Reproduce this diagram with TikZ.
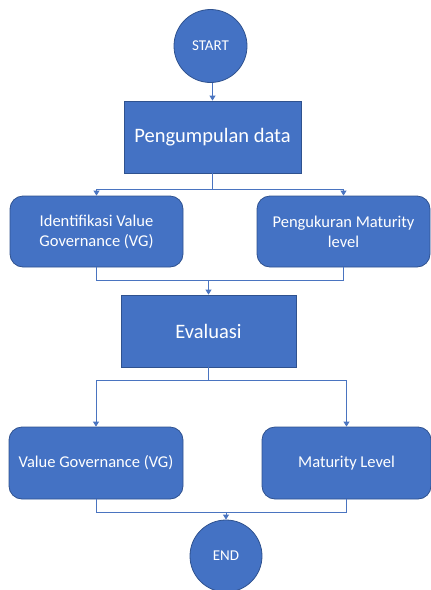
\documentclass[tikz,border=0pt]{standalone}
\usepackage{fontspec}
\setmainfont{Carlito}
\usetikzlibrary{arrows.meta}
\definecolor{fillblue}{HTML}{4472C4}
\definecolor{edgeblue}{HTML}{2F528F}
\definecolor{lineblue}{HTML}{4A74C0}
\tikzset{
  base/.style={fill=fillblue, draw=edgeblue, line width=0.8pt, text=white, align=center, inner sep=2pt},
  sqbox/.style={base, rectangle, font=\fontsize{20.5}{24}\selectfont},
  rbox/.style={base, rectangle, rounded corners=13pt, font=\fontsize{16.5}{20}\selectfont},
  term/.style={base, circle, font=\fontsize{15}{18}\selectfont},
  link/.style={draw=lineblue, line width=0.9pt},
  arr/.style={link, -{Triangle[width=6pt,length=5pt]}}
}
\begin{document}
\begin{tikzpicture}[x=1pt,y=-1pt]
\useasboundingbox (0,0) rectangle (431,590);
\node[term, minimum size=73pt] (start) at (210.5,46) {START};
\node[sqbox, minimum width=177pt, minimum height=72pt] (pd) at (212.5,137) {Pengumpulan data};
\node[rbox, minimum width=173pt, minimum height=71pt] (ivg) at (96.5,231.5) {Identifikasi Value\\Governance (VG)};
\node[rbox, minimum width=173pt, minimum height=71pt] (pml) at (343.5,231.5) {Pengukuran Maturity\\level};
\node[sqbox, minimum width=175pt, minimum height=72pt] (eval) at (208.5,331) {Evaluasi};
\node[rbox, minimum width=174pt, minimum height=72pt] (vg) at (96,463) {Value Governance (VG)};
\node[rbox, minimum width=169pt, minimum height=72pt] (ml) at (346.5,463) {Maturity Level};
\node[term, minimum size=72pt] (end) at (226,556) {END};
% connectors
\coordinate (j1) at (212.5,189);
\coordinate (j2) at (208.5,280);
\coordinate (j3) at (208.5,380);
\coordinate (j4) at (226,512);
\draw[arr] (start.south -| pd.north) -- (pd.north);
\draw[link] (pd.south) -- (j1);
\draw[arr] (j1) -| (ivg.north);
\draw[arr] (j1) -| (pml.north);
\draw[link] (ivg.south) |- (j2);
\draw[link] (pml.south) |- (j2);
\draw[arr] (j2) -- (eval.north);
\draw[link] (eval.south) -- (j3);
\draw[arr] (j3) -| (vg.north);
\draw[arr] (j3) -| (ml.north);
\draw[link] (vg.south) |- (j4);
\draw[link] (ml.south) |- (j4);
\draw[arr] (j4) -- (end.north);
\end{tikzpicture}
\end{document}
